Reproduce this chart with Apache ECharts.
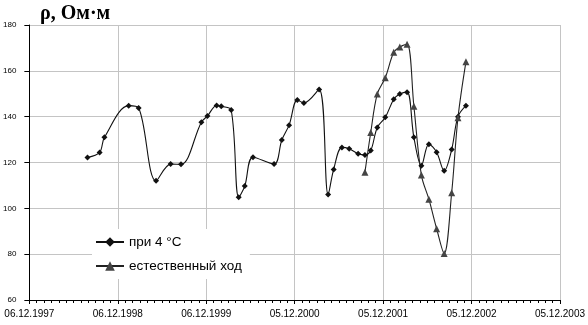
<!DOCTYPE html>
<html>
<head>
<meta charset="utf-8">
<script src="https://cdn.jsdelivr.net/npm/echarts@6/dist/echarts.min.js"></script>
<style>
html,body{margin:0;padding:0;background:#fff;}
#chart{width:588px;height:325px;}
</style>
</head>
<body>
<div id="chart"></div>
<script>
// Measurement dates (dd.mm.yyyy)
const dates = [
  '03.08.1998','22.09.1998','12.10.1998','20.01.1999','02.03.1999','13.05.1999',
  '12.07.1999','24.08.1999','16.11.1999','11.12.1999','18.01.2000','06.02.2000',
  '18.03.2000','18.04.2000','13.05.2000','16.06.2000','11.09.2000','13.10.2000',
  '12.11.2000','16.12.2000','12.01.2001','16.03.2001','22.04.2001','15.05.2001',
  '18.06.2001','18.07.2001','24.08.2001','21.09.2001','15.10.2001','11.11.2001',
  '14.12.2001','18.01.2002','12.02.2002','14.03.2002','11.04.2002','12.05.2002',
  '12.06.2002','14.07.2002','14.08.2002','14.09.2002','10.10.2002','12.11.2002'
];
// ρ at 4 °C, Ohm·m
const rho4C = [
  122.2,124.4,131.0,144.8,143.8,112.0,
  119.3,119.2,137.6,140.3,144.9,144.5,
  142.9,104.8,109.7,122.3,119.3,129.8,
  136.3,147.3,146.0,151.9,106.0,117.0,
  126.6,126.0,123.8,123.3,125.2,135.3,
  139.7,147.6,149.9,150.7,131.0,118.6,
  128.0,124.5,116.4,125.7,140.0,144.8
];
// natural course dates and values
const natDates = [
  '21.09.2001','15.10.2001','11.11.2001','14.12.2001','18.01.2002','12.02.2002',
  '14.03.2002','11.04.2002','12.05.2002','12.06.2002','14.07.2002','14.08.2002',
  '14.09.2002','10.10.2002','12.11.2002'
];
const rhoNatural = [
  115.7,133.1,149.9,157.0,168.1,170.4,
  171.6,144.6,114.5,104.0,91.1,80.3,
  106.8,139.5,164.0
];
const seriesNames = ['при 4 °C', 'естественный ход'];
const titleText = 'ρ, Ом·м';

const BASE = Date.UTC(1997, 11, 6);
const DAY = 86400000;
function toDay(s) {
  const p = s.split('.').map(Number);
  return (Date.UTC(p[2], p[1] - 1, p[0]) - BASE) / DAY;
}
function fmt(v) {
  const d = new Date(BASE + Math.round(v) * DAY);
  const dd = String(d.getUTCDate()).padStart(2, '0');
  const mm = String(d.getUTCMonth() + 1).padStart(2, '0');
  return dd + '.' + mm + '.' + d.getUTCFullYear();
}

const chart = echarts.init(document.getElementById('chart'), null, {renderer: 'canvas'});
chart.setOption({
  animation: false,
  backgroundColor: '#fff',
  title: {
    text: titleText,
    left: 35, top: -1,
    textStyle: {fontFamily: 'Liberation Serif', fontWeight: 'bold', fontSize: 20, color: '#000'}
  },
  grid: {left: 27, right: 26.5, top: 25, bottom: 25, containLabel: false},
  legend: {
    orient: 'vertical',
    left: 92, top: 229,
    backgroundColor: '#fff',
    padding: [6, 8, 6, 3],
    itemGap: 10,
    itemWidth: 28, itemHeight: 12,
    textStyle: {fontFamily: 'Liberation Sans', fontSize: 13.5, color: '#000'},
    data: seriesNames
  },
  xAxis: {
    type: 'value',
    min: 0, max: 2190, interval: 365,
    axisLine: {lineStyle: {color: '#000', width: 1}},
    axisTick: {show: true, length: 4, lineStyle: {color: '#000'}},
    minorTick: {show: true, splitNumber: 12, length: 3, lineStyle: {color: '#000'}},
    splitLine: {show: true, lineStyle: {color: '#c4c4c4', width: 1}},
    axisLabel: {
      formatter: fmt, margin: 9, color: '#000',
      fontFamily: 'Liberation Sans', fontSize: 10
    }
  },
  yAxis: {
    type: 'value',
    min: 60, max: 180, interval: 20,
    axisLine: {show: true, lineStyle: {color: '#000', width: 1}},
    axisTick: {show: true, length: 5, lineStyle: {color: '#000'}},
    splitLine: {show: true, lineStyle: {color: '#c4c4c4', width: 1}},
    axisLabel: {margin: 13, color: '#000', fontFamily: 'Liberation Sans', fontSize: 8}
  },
  series: [
    {
      name: seriesNames[0],
      type: 'line',
      smooth: 0.35,
      symbol: 'diamond', symbolSize: 6,
      itemStyle: {color: '#111'},
      lineStyle: {color: '#111', width: 1.1},
      data: dates.map((d, i) => [toDay(d), rho4C[i]])
    },
    {
      name: seriesNames[1],
      type: 'line',
      smooth: 0.35,
      symbol: 'triangle', symbolSize: 7,
      itemStyle: {color: '#444'},
      lineStyle: {color: '#222', width: 1.1},
      data: natDates.map((d, i) => [toDay(d), rhoNatural[i]])
    }
  ]
});
</script>
</body>
</html>
